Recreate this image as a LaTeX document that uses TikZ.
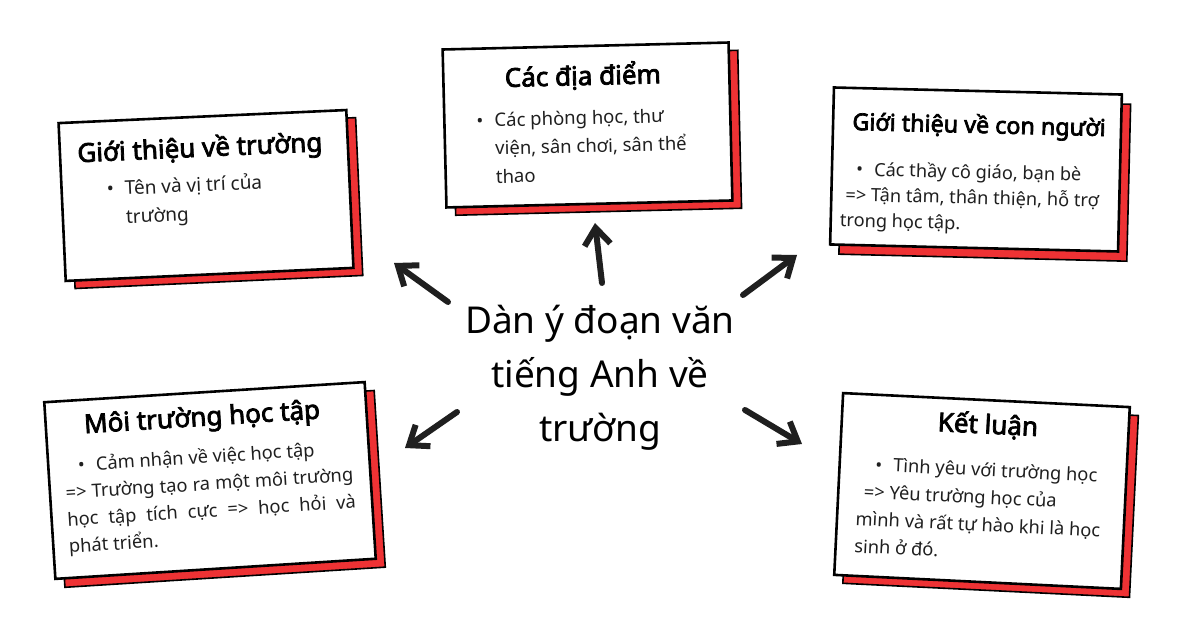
\documentclass[tikz,border=0pt]{standalone}
\usepackage{fontspec}
\setmainfont{Noto Sans}
\newfontfamily\titlefont{Noto Sans}[FakeBold=3]
\usetikzlibrary{arrows.meta}
\definecolor{cardred}{HTML}{EE3234}
\definecolor{ink}{HTML}{1F1F1F}

\begin{document}
\begin{tikzpicture}[x=1pt,y=1pt]
\tikzstyle{every node}+=[inner sep=0pt]
\tikzstyle{card}=[draw=black, line width=2.6pt, fill=white]
\tikzstyle{cardshadow}=[draw=black, line width=1.6pt, fill=cardred]
\tikzstyle{cardtitle}=[font=\titlefont\fontsize{26}{30}\selectfont, anchor=base]
\tikzstyle{cardtext}=[font=\fontsize{18.5}{28}\selectfont, text=ink, align=left, anchor=base west]
\tikzstyle{bigtext}=[font=\fontsize{37}{54}\selectfont, text=black, align=center, anchor=base]
\tikzstyle{bigarrow}=[draw=ink, line width=6pt, line cap=round, line join=round, -{Straight Barb[length=17pt,width=26pt]}]
\newcommand{\bul}{\makebox[18pt][l]{\textbullet}}
\useasboundingbox (0,0) rectangle (1200,628);
\fill[white] (0,0) rectangle (1200,628);
% gioi thieu ve truong
\begin{scope}[shift={(206,432.5)}, rotate=2.6, transform shape]
\draw[cardshadow] (-135,-87) rectangle (153,71);
\node[card, minimum width=288, minimum height=158] (truong) at (0,0) {};
\node[cardtitle] (truongT) at (-4,39) {Giới thiệu về trường};
\node[cardtext, font=\fontsize{19}{28.4}\selectfont] (truongB) at (-99,-24.2) {\bul Tên và vị trí của\\ \hspace{18pt}trường};
\end{scope}
% cac dia diem
\begin{scope}[shift={(587.5,503)}, rotate=1.4, transform shape]
\draw[cardshadow] (-134,-87) rectangle (152,71);
\node[card, minimum width=286, minimum height=158] (diadiem) at (0,0) {};
\node[cardtitle] (diadiemT) at (-3.5,40) {Các địa điểm};
\node[cardtext, font=\fontsize{18.5}{28.3}\selectfont] (diadiemB) at (-111,-56) {\bul Các phòng học, thư\\ \hspace{18pt}viện, sân chơi, sân thể\\ \hspace{18pt}thao};
\end{scope}
% gioi thieu ve con nguoi
\begin{scope}[shift={(976,458.5)}, rotate=-1.4, transform shape]
\draw[cardshadow] (-135,-88) rectangle (153,69);
\node[card, minimum width=288, minimum height=157] (connguoi) at (0,0) {};
\node[cardtitle, font=\titlefont\fontsize{23.3}{28}\selectfont] (connguoiT) at (2,36.5) {Giới thiệu về con người};
\node[cardtext, font=\fontsize{18.2}{25.7}\selectfont] (connguoiB) at (-135,-60.4) {\hspace{15pt}\bul Các thầy cô giáo, bạn bè\\ \hspace{5pt}=> Tận tâm, thân thiện, hỗ trợ\\ trong học tập.};
\end{scope}
% moi truong hoc tap
\begin{scope}[shift={(210,147.5)}, rotate=3.6, transform shape]
\draw[cardshadow] (-151.5,-97.5) rectangle (169.5,79.5);
\node[card, minimum width=321, minimum height=177] (moitruong) at (0,0) {};
\node[cardtitle] (moitruongT) at (-4,55) {Môi trường học tập};
\node[cardtext, font=\fontsize{18.3}{27}\selectfont] (moitruongB) at (-145,-63.5) {\hspace{14pt}\bul Cảm nhận về việc học tập\\ \makebox[288pt][s]{=> Trường tạo ra một môi trường}\\ \makebox[289pt][s]{học tập tích cực => học hỏi và}\\ phát triển.};
\end{scope}
% ket luan
\begin{scope}[shift={(982,137)}, rotate=-2.8, transform shape]
\draw[cardshadow] (-134.5,-99) rectangle (152.5,83);
\node[card, minimum width=287, minimum height=182] (ketluan) at (0,0) {};
\node[cardtitle] (ketluanT) at (2.7,57.6) {Kết luận};
\node[cardtext, font=\fontsize{18.3}{27.5}\selectfont] (ketluanB) at (-125,-67.8) {\hspace{17pt}\bul Tình yêu với trường học\\ \hspace{7pt}=> Yêu trường học của\\ mình và rất tự hào khi là học\\ sinh ở đó.};
\end{scope}
% tieu de
\node[bigtext] (tieude) at (600,186.3) {Dàn ý đoạn văn\\ tiếng Anh về\\ trường};
% mui ten
\coordinate (a1s) at (448,326); \coordinate (a1e) at (394,365);
\coordinate (a2s) at (602,345); \coordinate (a2e) at (595,405);
\coordinate (a3s) at (743,333); \coordinate (a3e) at (797,373);
\coordinate (a4s) at (457,216); \coordinate (a4e) at (405,180);
\coordinate (a5s) at (745,218); \coordinate (a5e) at (802,184);
\draw[bigarrow] (a1s) -- (a1e);
\draw[bigarrow] (a2s) -- (a2e);
\draw[bigarrow] (a3s) -- (a3e);
\draw[bigarrow] (a4s) -- (a4e);
\draw[bigarrow] (a5s) -- (a5e);
\end{tikzpicture}
\end{document}
